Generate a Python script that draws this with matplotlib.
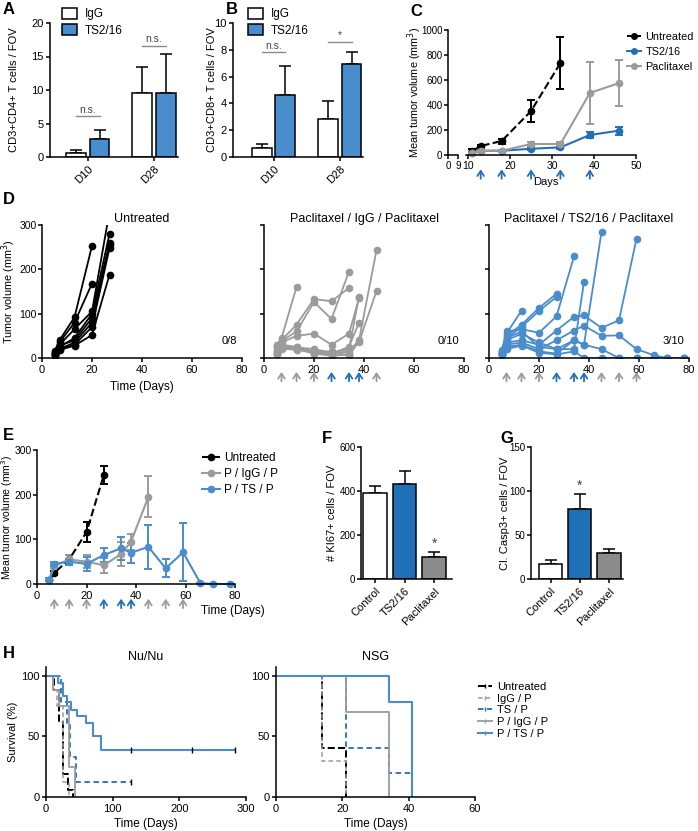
import numpy as np
import matplotlib
matplotlib.use('Agg')
import matplotlib.pyplot as plt
from matplotlib.lines import Line2D

plt.rcParams['font.family'] = ['Liberation Sans', 'DejaVu Sans']
plt.rcParams['font.size'] = 8
plt.rcParams['axes.linewidth'] = 1.1
plt.rcParams['xtick.major.width'] = 1.1
plt.rcParams['ytick.major.width'] = 1.1
plt.rcParams['xtick.major.size'] = 3
plt.rcParams['ytick.major.size'] = 3
plt.rcParams['xtick.major.pad'] = 2
plt.rcParams['ytick.major.pad'] = 1.5
plt.rcParams['xtick.labelsize'] = 8
plt.rcParams['ytick.labelsize'] = 8

# ---------------- data ----------------
# A / B : T cells per FOV
groups_ab = ['D10', 'D28']
cd4_igg = [0.6, 9.5]
cd4_igg_err = [0.4, 4.0]
cd4_ts = [2.7, 9.6]
cd4_ts_err = [1.4, 5.8]
cd8_igg = [0.65, 2.85]
cd8_igg_err = [0.3, 1.3]
cd8_ts = [4.65, 6.95]
cd8_ts_err = [2.15, 0.9]

# C : mean tumor volume
c_untr_days = [11, 13, 18, 25, 32]
c_untr = [32, 72, 112, 352, 736]
c_untr_err = [20, 10, 20, 88, 208]
c_days = [11, 13, 18, 25, 32, 39, 46]
c_ts = [18, 34, 34, 50, 61, 160, 195]
c_ts_err = [8, 8, 8, 10, 10, 25, 32]
c_pac = [18, 34, 34, 88, 88, 496, 576]
c_pac_err = [8, 8, 8, 18, 18, 245, 184]
c_treat_days = [13, 18, 25, 32, 39]

# D : individual tumors
d_untr_t = [[5, 7, 13, 20], [5, 7, 13, 20],
            [5, 7, 13, 20, 27], [5, 7, 13, 20, 27], [5, 7, 13, 20, 27],
            [5, 7, 13, 20, 27], [5, 7, 13, 20, 27], [5, 7, 13, 20, 27]]
d_untr_v = [[15, 40, 92, 253], [12, 35, 80, 168],
            [10, 30, 65, 105, 330], [8, 25, 45, 100, 280], [14, 28, 40, 90, 260],
            [6, 20, 35, 80, 255], [10, 22, 30, 70, 248], [5, 18, 28, 52, 188]]

d_pig_t = [[5, 7, 13], [5, 7, 13, 20, 27, 34], [5, 7, 13, 20, 27, 34],
           [5, 7, 13, 20, 27, 34, 38], [5, 7, 13, 20, 27, 34, 38],
           [5, 7, 13, 20, 27, 34, 38, 45], [5, 7, 13, 20, 27, 34, 38, 45],
           [5, 7, 13, 20, 27, 34, 38], [5, 7, 13, 20, 27, 34], [5, 7, 13, 20, 27, 34]]
d_pig_v = [[25, 45, 160], [30, 40, 75, 133, 128, 158], [28, 38, 60, 126, 88, 195],
           [15, 35, 50, 55, 30, 55, 135], [18, 30, 25, 15, 12, 20, 138],
           [12, 28, 22, 12, 8, 15, 40, 243], [10, 25, 20, 10, 5, 8, 36, 151],
           [8, 20, 22, 15, 10, 25, 80], [10, 22, 18, 14, 15, 12], [14, 26, 24, 20, 12, 6]]

d_pts_t = [[5, 7, 13], [5, 7, 13, 20, 27], [5, 7, 13, 20, 27],
           [5, 7, 13, 20, 27, 34], [5, 7, 13, 20, 27, 34, 38],
           [5, 7, 13, 20, 27, 34, 38, 45],
           [5, 7, 13, 20, 27, 34, 38, 45, 52, 59],
           [5, 7, 13, 20, 27, 34, 38, 45, 52, 59, 66, 71, 78],
           [5, 7, 13, 20, 27, 34, 38, 45, 52, 59, 66, 71, 78],
           [5, 7, 13, 20, 27, 34, 38, 45, 52, 59, 66, 71, 78]]
d_pts_v = [[15, 55, 107], [18, 50, 75, 113, 145], [12, 45, 70, 106, 138],
           [10, 60, 65, 57, 94, 229], [8, 40, 55, 35, 20, 20, 172],
           [14, 45, 60, 25, 20, 40, 30, 284],
           [10, 35, 40, 30, 62, 93, 96, 68, 85, 269],
           [12, 30, 35, 20, 40, 62, 73, 50, 51, 20, 6, 0, 0],
           [9, 25, 30, 15, 10, 40, 30, 20, 0, 0, 0, 0, 0],
           [6, 20, 28, 12, 8, 15, 0, 0, 0, 0, 0, 0, 0]]
d_counts = ['0/8', '0/10', '3/10']
pac_days = [7, 13, 20, 45, 52, 59]
ts_days = [27, 34, 38]

# E : mean tumor volume
e_untr_days = [5, 7, 13, 20, 27]
e_untr = [10, 25, 55, 116, 244]
e_untr_err = [3, 5, 10, 23, 20]
e_pig_days = [5, 7, 13, 20, 27, 34, 38, 45]
e_pig = [10, 40, 55, 50, 42, 67, 95, 195]
e_pig_err = [3, 5, 10, 15, 17, 27, 18, 46]
e_pts_days = [5, 7, 13, 20, 27, 34, 38, 45, 52, 59, 66, 71, 78]
e_pts = [10, 45, 50, 45, 65, 80, 70, 83, 35, 71, 2, 0, 0]
e_pts_err = [3, 4, 7, 15, 16, 26, 22, 50, 20, 65, 0, 0, 0]

# F / G
fg_groups = ['Control', 'TS2/16', 'Paclitaxel']
ki67 = [390, 432, 100]
ki67_err = [35, 58, 25]
casp3 = [17, 79, 30]
casp3_err = [5, 18, 4]

# H : survival
nu_untr_t = [0, 12, 20, 26, 33, 40]
nu_untr_s = [100, 88, 62, 19, 6, 0]
nu_igp_t = [0, 10, 17, 25, 34]
nu_igp_s = [100, 88, 75, 12, 0]
nu_tsp_t = [0, 22, 31, 36, 45, 127]
nu_tsp_s = [100, 78, 60, 33, 12, 12]
nu_pigp_t = [0, 11, 20, 34, 44]
nu_pigp_s = [100, 88, 75, 25, 0]
nu_ptsp_t = [0, 18, 25, 32, 38, 47, 60, 70, 82, 283]
nu_ptsp_s = [100, 94, 83, 78, 72, 67, 61, 50, 39, 39]
nu_ptsp_cens = [127, 219, 283]

nsg_untr_t = [0, 14, 21]
nsg_untr_s = [100, 40, 0]
nsg_igp_t = [0, 14, 21]
nsg_igp_s = [100, 30, 0]
nsg_tsp_t = [0, 21, 34, 41]
nsg_tsp_s = [100, 40, 20, 0]
nsg_pigp_t = [0, 21, 34]
nsg_pigp_s = [100, 70, 0]
nsg_ptsp_t = [0, 34, 41]
nsg_ptsp_s = [100, 78, 0]

BLUE = '#4a8dcc'
DBLUE = '#2070b8'
GREY = '#9b9b9b'
BARGREY = '#8c8c8c'

W, H = 698, 831
fig = plt.figure(figsize=(W / 100, H / 100), dpi=100)


def ax_px(l, t, r, b):
    a = fig.add_axes([l / W, 1 - b / H, (r - l) / W, (b - t) / H])
    a.spines['top'].set_visible(False)
    a.spines['right'].set_visible(False)
    return a


def ftxt(x, y, s, **kw):
    kw.setdefault('ha', 'center')
    kw.setdefault('va', 'center')
    fig.text(x / W, 1 - y / H, s, **kw)


def ylab(ax, s, xpx, size=8):
    ax.set_ylabel(s, va='center', fontsize=size)
    pos = ax.get_position()
    ax.yaxis.set_label_coords(xpx / W, pos.y0 + pos.height / 2, transform=fig.transFigure)


def arrows(ax, days, color, y0, y1):
    for d in days:
        ax.annotate('', xy=(d, y0), xytext=(d, y1),
                    xycoords=('data', 'axes fraction'), textcoords=('data', 'axes fraction'),
                    arrowprops=dict(arrowstyle='->,head_length=0.45,head_width=0.3', color=color,
                                    lw=1.3, mutation_scale=8, shrinkA=0, shrinkB=0),
                    annotation_clip=False)


# panel letters
for letter, (lx, ly) in {'A': (9, 9), 'B': (232, 9), 'C': (416, 12), 'D': (9, 199),
                         'E': (8, 436), 'F': (327, 438), 'G': (507, 438), 'H': (9, 654)}.items():
    ftxt(lx, ly, letter, fontsize=12, fontweight='bold')


# ---------------- A / B ----------------
def tcell_panel(ax, igg, igg_err, ts, ts_err, ymax, sig, leg_x):
    x = np.arange(len(groups_ab))
    bw, off = 0.30, 0.177
    ax.bar(x - off, igg, bw, color='white', edgecolor='black', lw=1.1, zorder=2, label='IgG')
    ax.bar(x + off, ts, bw, color=BLUE, edgecolor='black', lw=1.1, zorder=2, label='TS2/16')
    ax.errorbar(x - off, igg, yerr=[np.zeros(len(x)), igg_err], fmt='none', ecolor='black',
                elinewidth=1.1, capsize=4, capthick=1.1, zorder=1)
    ax.errorbar(x + off, ts, yerr=[np.zeros(len(x)), ts_err], fmt='none', ecolor='black',
                elinewidth=1.1, capsize=4, capthick=1.1, zorder=1)
    ax.set_ylim(0, ymax)
    ax.set_xticks(x)
    ax.set_xticklabels(groups_ab, rotation=45, ha='right', rotation_mode='anchor')
    for i, (yl, txt) in enumerate(sig):
        ax.plot([i - off, i + off], [yl, yl], color='#8a8a8a', lw=1)
        ax.text(i, yl + ymax * 0.012, txt, ha='center', va='bottom', fontsize=7.5, color='#444444')
    ax.legend(loc='upper left', bbox_to_anchor=(leg_x / W, 1 - 8 / H),
              bbox_transform=fig.transFigure, frameon=False, fontsize=8.5, handlelength=1.3,
              handleheight=1.0, handletextpad=0.6, labelspacing=0.35, borderpad=0, borderaxespad=0)


axA = ax_px(50, 23, 178, 157)
axA.set_xlim(-0.57, 1.36)
tcell_panel(axA, cd4_igg, cd4_igg_err, cd4_ts, cd4_ts_err, 20, [(6.1, 'n.s.'), (16.6, 'n.s.')], 62)
axA.set_yticks([0, 5, 10, 15, 20])
ylab(axA, 'CD3+CD4+ T cells / FOV', 14)

axB = ax_px(233, 23, 363, 157)
axB.set_xlim(-0.615, 1.35)
tcell_panel(axB, cd8_igg, cd8_igg_err, cd8_ts, cd8_ts_err, 10, [(7.8, 'n.s.'), (8.6, '*')], 248)
axB.set_yticks([0, 2, 4, 6, 8, 10])
ylab(axB, 'CD3+CD8+ T cells / FOV', 212)

# ---------------- C ----------------
axC0 = ax_px(448, 30, 458, 155)
axC0.set_xlim(0, 9)
axC0.set_xticks([0, 9])
axC0.set_ylim(0, 1000)
axC0.set_yticks([0, 200, 400, 600, 800, 1000])
axC0.tick_params(labelsize=7, pad=1)
ylab(axC0, 'Mean tumor volume (mm$^3$)', 415, size=7.8)

axC = ax_px(466, 30, 636, 155)
axC.spines['left'].set_visible(False)
axC.set_yticks([])
axC.set_xlim(9.5, 50)
axC.set_ylim(0, 1000)
axC.set_xticks([10, 20, 30, 40, 50])
axC.tick_params(labelsize=7.5, pad=1)
axC.errorbar(c_untr_days, c_untr, yerr=c_untr_err, fmt='--o', color='black', ms=4.5, lw=1.5,
             elinewidth=1.4, capsize=3, capthick=1.4, label='Untreated', clip_on=False)
axC.errorbar(c_days, c_ts, yerr=c_ts_err, fmt='-o', color=DBLUE, ms=4.5, lw=1.5,
             elinewidth=1.4, capsize=3, capthick=1.4, label='TS2/16', clip_on=False)
axC.errorbar(c_days, c_pac, yerr=c_pac_err, fmt='-o', color=GREY, ms=4.5, lw=1.5,
             elinewidth=1.4, capsize=3, capthick=1.4, label='Paclitaxel', clip_on=False)
arrows(axC, c_treat_days, DBLUE, -0.115, -0.19)
ftxt(546, 182, 'Days', fontsize=8)
axC.legend([Line2D([], [], color=c, marker='o', ms=4, lw=1.4, ls=ls)
            for c, ls in [('black', '--'), (DBLUE, '-'), (GREY, '-')]],
           ['Untreated', 'TS2/16', 'Paclitaxel'],
           loc='upper left', bbox_to_anchor=(627 / W, 1 - 32 / H), bbox_transform=fig.transFigure,
           frameon=False, fontsize=7.8, handlelength=1.3, handletextpad=0.4, labelspacing=0.45,
           borderpad=0, borderaxespad=0)

# ---------------- D ----------------
d_specs = [((42, 242), d_untr_t, d_untr_v, 'black', 'Untreated', d_counts[0]),
           ((264, 464), d_pig_t, d_pig_v, GREY, 'Paclitaxel / IgG / Paclitaxel', d_counts[1]),
           ((489, 689), d_pts_t, d_pts_v, BLUE, 'Paclitaxel / TS2/16 / Paclitaxel', d_counts[2])]
for k, ((l, r), ts, vs, col, title, cnt) in enumerate(d_specs):
    ax = ax_px(l, 225, r, 358)
    for t, v in zip(ts, vs):
        ax.plot(t, v, '-o', color=col, ms=4.5, lw=1.3)
    ax.set_xlim(0, 80)
    ax.set_ylim(0, 300)
    ax.set_xticks([0, 20, 40, 60, 80])
    ax.set_yticks([0, 100, 200, 300])
    ax.text(0.5, 1.0, title, transform=ax.transAxes, ha='center', va='bottom', fontsize=9)
    ax.text(78, 28, cnt, ha='right', va='bottom', fontsize=8)
    if k == 0:
        ax.tick_params(axis='y', labelsize=7.5, pad=1)
        ylab(ax, 'Tumor volume (mm$^3$)', 9, size=7.8)
        ftxt(142, 387, 'Time (Days)', fontsize=8.5)
    else:
        ax.set_yticklabels([])
        arrows(ax, pac_days[:3], GREY, -0.105, -0.175)
        arrows(ax, ts_days, DBLUE, -0.105, -0.175)
        arrows(ax, pac_days[3:] if k == 2 else pac_days[3:4], GREY, -0.105, -0.175)

# ---------------- E ----------------
axE = ax_px(37, 450, 235, 584)
axE.errorbar(e_untr_days, e_untr, yerr=e_untr_err, fmt='--o', color='black', ms=4.5, lw=1.5,
             elinewidth=1.4, capsize=3, capthick=1.4, label='Untreated', clip_on=False)
axE.errorbar(e_pig_days, e_pig, yerr=e_pig_err, fmt='-o', color=GREY, ms=4.5, lw=1.5,
             elinewidth=1.4, capsize=3, capthick=1.4, label='P / IgG / P', clip_on=False)
axE.errorbar(e_pts_days, e_pts, yerr=e_pts_err, fmt='-o', color=BLUE, ms=4.5, lw=1.5,
             elinewidth=1.4, capsize=3, capthick=1.4, label='P / TS / P', clip_on=False)
axE.set_xlim(0, 80)
axE.set_ylim(0, 300)
axE.set_xticks([0, 20, 40, 60, 80])
axE.set_yticks([0, 100, 200, 300])
axE.tick_params(axis='y', labelsize=7.5, pad=1)
arrows(axE, pac_days, GREY, -0.11, -0.18)
arrows(axE, ts_days, DBLUE, -0.11, -0.18)
ftxt(233, 611, 'Time (Days)', fontsize=8.5)
ylab(axE, 'Mean tumor volume (mm$^3$)', 7, size=7.5)
axE.legend([Line2D([], [], color=c, marker='o', ms=4.5, lw=1.5, ls=ls)
            for c, ls in [('black', '--'), (GREY, '-'), (BLUE, '-')]],
           ['Untreated', 'P / IgG / P', 'P / TS / P'],
           loc='upper left', bbox_to_anchor=(202 / W, 1 - 452 / H), bbox_transform=fig.transFigure,
           frameon=False, fontsize=8.5, handlelength=1.5, handletextpad=0.4, labelspacing=0.35,
           borderpad=0, borderaxespad=0)


# ---------------- F / G ----------------
def bar_panel(ax, vals, errs, ymax, yt, star_i, star_y):
    x = np.arange(len(fg_groups))
    ax.bar(x, vals, 0.8, color=['white', DBLUE, BARGREY], edgecolor='black', lw=1.1, zorder=2)
    ax.errorbar(x, vals, yerr=[np.zeros(len(x)), errs], fmt='none', ecolor='black',
                elinewidth=1.1, capsize=4, capthick=1.1, zorder=1)
    ax.set_ylim(0, ymax)
    ax.set_yticks(yt)
    ax.set_xticks(x)
    ax.set_xticklabels(fg_groups, rotation=45, ha='right', rotation_mode='anchor')
    ax.tick_params(axis='y', labelsize=7, pad=1)
    ax.text(star_i, star_y, '*', ha='center', va='center', fontsize=10, color='#444444')


axF = ax_px(361, 447, 452, 579)
axF.set_xlim(-0.47, 2.6)
bar_panel(axF, ki67, ki67_err, 600, [0, 200, 400, 600], 2, 158)
ylab(axF, '# KI67+ cells / FOV', 332)

axG = ax_px(531, 447, 623, 579)
axG.set_xlim(-0.67, 2.48)
bar_panel(axG, casp3, casp3_err, 150, [0, 50, 100, 150], 1, 106)
ylab(axG, 'Cl. Casp3+ cells / FOV', 505)

# ---------------- H ----------------
h_styles = [('black', '--', 1.4), (GREY, (0, (3, 2)), 1.1), (DBLUE, (0, (3, 2)), 1.3),
            (GREY, '-', 1.3), (BLUE, '-', 1.5)]
h_labels = ['Untreated', 'IgG / P', 'TS / P', 'P / IgG / P', 'P / TS / P']
nu_curves = [(nu_untr_t, nu_untr_s), (nu_igp_t, nu_igp_s), (nu_tsp_t, nu_tsp_s),
             (nu_pigp_t, nu_pigp_s), (nu_ptsp_t, nu_ptsp_s)]
nsg_curves = [(nsg_untr_t, nsg_untr_s), (nsg_igp_t, nsg_igp_s), (nsg_tsp_t, nsg_tsp_s),
              (nsg_pigp_t, nsg_pigp_s), (nsg_ptsp_t, nsg_ptsp_s)]

axH1 = ax_px(46, 667, 246, 797)
axH2 = ax_px(276, 667, 475, 797)
for ax, curves, xmax, xt, title in [(axH1, nu_curves, 300, [0, 100, 200, 300], 'Nu/Nu'),
                                    (axH2, nsg_curves, 60, [0, 20, 40, 60], 'NSG')]:
    for (t, s), (c, ls, lw) in zip(curves, h_styles):
        ax.step(t, s, where='post', color=c, ls=ls, lw=lw)
    ax.set_xlim(0, xmax)
    ax.set_ylim(0, 107)
    ax.set_xticks(xt)
    ax.set_yticks([0, 50, 100])
    ax.set_xlabel('Time (Days)', fontsize=8.5, labelpad=3)
    ax.text(0.5, 1.03, title, transform=ax.transAxes, ha='center', va='bottom', fontsize=9)
axH1.plot(nu_ptsp_cens, [nu_ptsp_s[-1]] * len(nu_ptsp_cens), '|', color='black', ms=4, mew=1)
axH1.plot([nu_tsp_t[-1]], [nu_tsp_s[-1]], '|', color='black', ms=4, mew=1)
ylab(axH1, 'Survival (%)', 13)
axH2.legend([Line2D([], [], color=c, ls=ls, lw=lw, marker='|', ms=3, mec=c) for c, ls, lw in h_styles],
            h_labels, loc='upper left', bbox_to_anchor=(478 / W, 1 - 682 / H),
            bbox_transform=fig.transFigure, frameon=False, fontsize=8, handlelength=1.3,
            handletextpad=0.4, labelspacing=0.15, borderpad=0, borderaxespad=0)

fig.savefig('out.png', dpi=100)
